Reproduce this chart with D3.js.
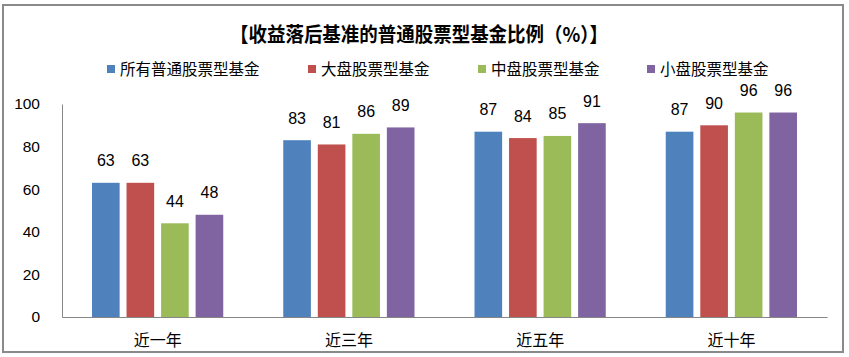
<!DOCTYPE html>
<html><head><meta charset="utf-8">
<script src="https://cdn.jsdelivr.net/npm/d3@7"></script>
<style>
body{margin:0;background:#fff;}
svg{display:block;}
</style></head>
<body>
<svg id="chart" width="849" height="357"></svg>
<script>
const title = "【收益落后基准的普通股票型基金比例（%）】";
const categories = ["近一年", "近三年", "近五年", "近十年"];
const seriesNames = ["所有普通股票型基金", "大盘股票型基金", "中盘股票型基金", "小盘股票型基金"];
const seriesColors = ["#4F81BD", "#C0504D", "#9BBB59", "#8064A2"];
const allFunds = [63, 83, 87, 87];
const largeCap = [63, 81, 84, 90];
const midCap = [44, 86, 85, 96];
const smallCap = [48, 89, 91, 96];
const yTicks = [0, 20, 40, 60, 80, 100];

const seriesValues = [allFunds, largeCap, midCap, smallCap];
const numFont = "'Liberation Sans', Arial, sans-serif";
const cjkFont = "'Noto Sans CJK SC', sans-serif";

const svg = d3.select("#chart");
const plot = {left: 62, right: 827, top: 104, bottom: 317};

// outer frame
svg.append("rect").attr("x", 3).attr("y", 5).attr("width", 840).attr("height", 347)
  .attr("fill", "#fff").attr("stroke", "#8a8a8a").attr("stroke-width", 2);

const x0 = d3.scaleBand().domain(categories).range([plot.left, plot.right]).paddingInner(0).paddingOuter(0);
const x1 = d3.scaleBand().domain(seriesNames).range([30, x0.bandwidth() - 30]).paddingInner(0.2).paddingOuter(0);
const y = d3.scaleLinear().domain([0, 100]).range([plot.bottom, plot.top]);

// title
svg.append("text").attr("x", 419).attr("y", 42).attr("text-anchor", "middle")
  .attr("font-family", cjkFont).attr("font-weight", "bold").attr("font-size", 20)
  .attr("textLength", 378).attr("lengthAdjust", "spacingAndGlyphs")
  .attr("fill", "#000").text(title);

// legend
const legendX = [107, 308, 478, 647];
const lg = svg.append("g");
seriesNames.forEach((name, i) => {
  lg.append("rect").attr("x", legendX[i]).attr("y", 65).attr("width", 8).attr("height", 8).attr("fill", seriesColors[i]);
  lg.append("text").attr("x", legendX[i] + 13).attr("y", 74.5)
    .attr("font-family", cjkFont).attr("font-size", 15.5).attr("fill", "#000").text(name);
});

// y axis
const yAxis = d3.axisLeft(y).tickValues(yTicks).tickSize(0).tickPadding(22);
const yg = svg.append("g").attr("transform", `translate(${plot.left},0)`).call(yAxis);
yg.select(".domain").attr("stroke", "#868686").attr("stroke-width", 1);
yg.selectAll("text").attr("font-family", numFont).attr("font-size", 15.5).attr("fill", "#000");

// x axis
const xAxis = d3.axisBottom(x0).tickSize(0).tickPadding(18);
const xg = svg.append("g").attr("transform", `translate(0,${plot.bottom})`).call(xAxis);
xg.select(".domain").attr("stroke", "#868686").attr("stroke-width", 1.2);
xg.selectAll("text").attr("font-family", cjkFont).attr("font-size", 16).attr("fill", "#000");

// bars
const groups = svg.append("g").selectAll("g").data(categories).join("g")
  .attr("transform", d => `translate(${x0(d)},0)`);
groups.each(function(cat, ci) {
  const g = d3.select(this);
  seriesNames.forEach((name, si) => {
    const v = seriesValues[si][ci];
    g.append("rect").attr("x", x1(name)).attr("y", y(v))
      .attr("width", x1.bandwidth()).attr("height", y(0) - y(v))
      .attr("fill", seriesColors[si]);
    g.append("text").attr("x", x1(name) + x1.bandwidth() / 2).attr("y", y(v) - 16.5)
      .attr("text-anchor", "middle").attr("font-family", numFont).attr("font-size", 16)
      .attr("fill", "#000").text(v);
  });
});
</script>
</body></html>
